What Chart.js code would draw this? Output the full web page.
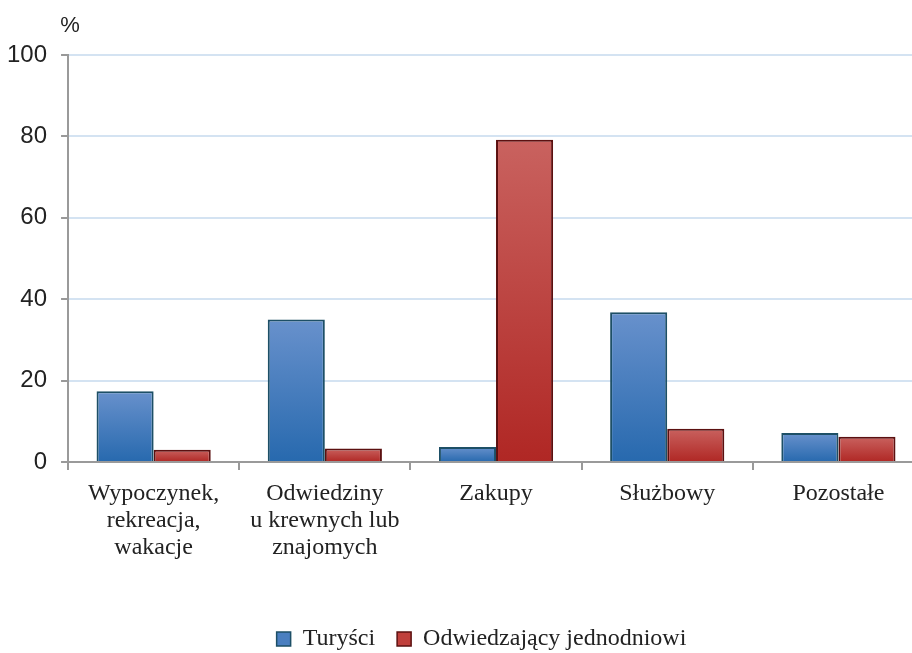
<!DOCTYPE html>
<html lang="pl">
<head>
<meta charset="utf-8">
<title>Cel przyjazdu</title>
<script src="https://cdn.jsdelivr.net/npm/chart.js@4.4.1/dist/chart.umd.min.js"></script>
<style>
  html, body { margin: 0; padding: 0; background: #fff; overflow: hidden; }
  #wrap { width: 930px; height: 653px; }
</style>
</head>
<body>
<div id="wrap"><canvas id="myChart"></canvas></div>
<script>
var categories = [
    ['Wypoczynek,', 'rekreacja,', 'wakacje'],
    ['Odwiedziny', 'u krewnych lub', 'znajomych'],
    'Zakupy',
    'Służbowy',
    'Pozostałe'
];
var turysci = [17.4, 35.0, 3.7, 36.8, 7.1];
var jednodniowi = [3.0, 3.3, 79.2, 8.2, 6.2];
var yTicks = [0, 20, 40, 60, 80, 100];

// vertical gradient over one bar, light at the top
function barGradient(context, top, bottom) {
    var chart = context.chart;
    if (!chart.chartArea || context.raw === undefined) return bottom;
    var y = chart.scales.y;
    var g = chart.ctx.createLinearGradient(0, y.getPixelForValue(context.raw), 0, y.getPixelForValue(0));
    g.addColorStop(0, top);
    g.addColorStop(1, bottom);
    return g;
}

// the "%" unit over the value axis
var unitLabel = {
    id: 'unitLabel',
    afterDraw: function(chart) {
        var ctx = chart.ctx;
        ctx.save();
        ctx.font = '22px "Liberation Sans", Arial, sans-serif';
        ctx.fillStyle = '#222';
        ctx.textAlign = 'center';
        ctx.textBaseline = 'middle';
        ctx.fillText('%', chart.scales.y.right + 2, 26);
        ctx.restore();
    }
};

// legend sits a bit right of the canvas centre and lower down
var legendShift = {
    id: 'legendShift',
    afterLayout: function(chart) {
        chart.legend.left += 23;
        chart.legend.right += 23;
        chart.legend.top += 8;
        chart.legend.bottom += 8;
    }
};

var config = {
    type: 'bar',
    data: {
        labels: categories,
        datasets: [{
            label: 'Turyści',
            data: turysci,
            backgroundColor: function(c) { return barGradient(c, '#6891cc', '#2769ae'); },
            borderColor: '#1d4f66',
            borderWidth: 2,
            borderSkipped: 'bottom'
        }, {
            label: 'Odwiedzający jednodniowi',
            data: jednodniowi,
            backgroundColor: function(c) { return barGradient(c, '#c9625f', '#b02724'); },
            borderColor: '#5b1010',
            borderWidth: 2,
            borderSkipped: 'bottom'
        }]
    },
    options: {
        responsive: true,
        maintainAspectRatio: false,
        animation: false,
        layout: { padding: { top: 55, left: -7, right: 6, bottom: 0 } },
        datasets: {
            bar: { categoryPercentage: 0.667, barPercentage: 1.0 }
        },
        scales: {
            x: {
                grid: {
                    offset: true,
                    drawOnChartArea: false,
                    drawTicks: true,
                    tickLength: 8,
                    tickColor: '#999',
                    lineWidth: 2
                },
                border: { color: '#9a9a9a', width: 2 },
                ticks: {
                    color: '#222',
                    maxRotation: 0,
                    autoSkip: false,
                    padding: 10,
                    font: { family: '"Liberation Serif", "Times New Roman", serif', size: 24, lineHeight: 1.125 }
                },
                afterFit: function(scale) { scale.height += 26; }
            },
            y: {
                min: 0,
                max: 100,
                afterBuildTicks: function(scale) {
                    scale.ticks = yTicks.map(function(v) { return { value: v }; });
                },
                grid: {
                    color: function(c) { return c.tick && c.tick.value === 0 ? 'rgba(0,0,0,0)' : '#d4e3f2'; },
                    lineWidth: 2,
                    tickLength: 7,
                    tickColor: '#999'
                },
                border: { color: '#9a9a9a', width: 2 },
                ticks: {
                    color: '#222',
                    padding: 14,
                    font: { family: '"Liberation Sans", Arial, sans-serif', size: 24 }
                }
            }
        },
        plugins: {
            tooltip: { enabled: false },
            legend: {
                position: 'bottom',
                labels: {
                    color: '#222',
                    boxWidth: 14,
                    boxHeight: 14,
                    padding: 22,
                    font: { family: '"Liberation Serif", "Times New Roman", serif', size: 24 },
                    generateLabels: function(chart) {
                        var fills = ['#4a7fc0', '#c0403c'];
                        return chart.data.datasets.map(function(ds, i) {
                            return {
                                text: ds.label,
                                fillStyle: fills[i],
                                strokeStyle: ds.borderColor,
                                lineWidth: 1.5,
                                fontColor: '#222',
                                datasetIndex: i
                            };
                        });
                    }
                }
            }
        }
    },
    plugins: [unitLabel, legendShift]
};

var chart = new Chart(document.getElementById('myChart'), config);
</script>
</body>
</html>
